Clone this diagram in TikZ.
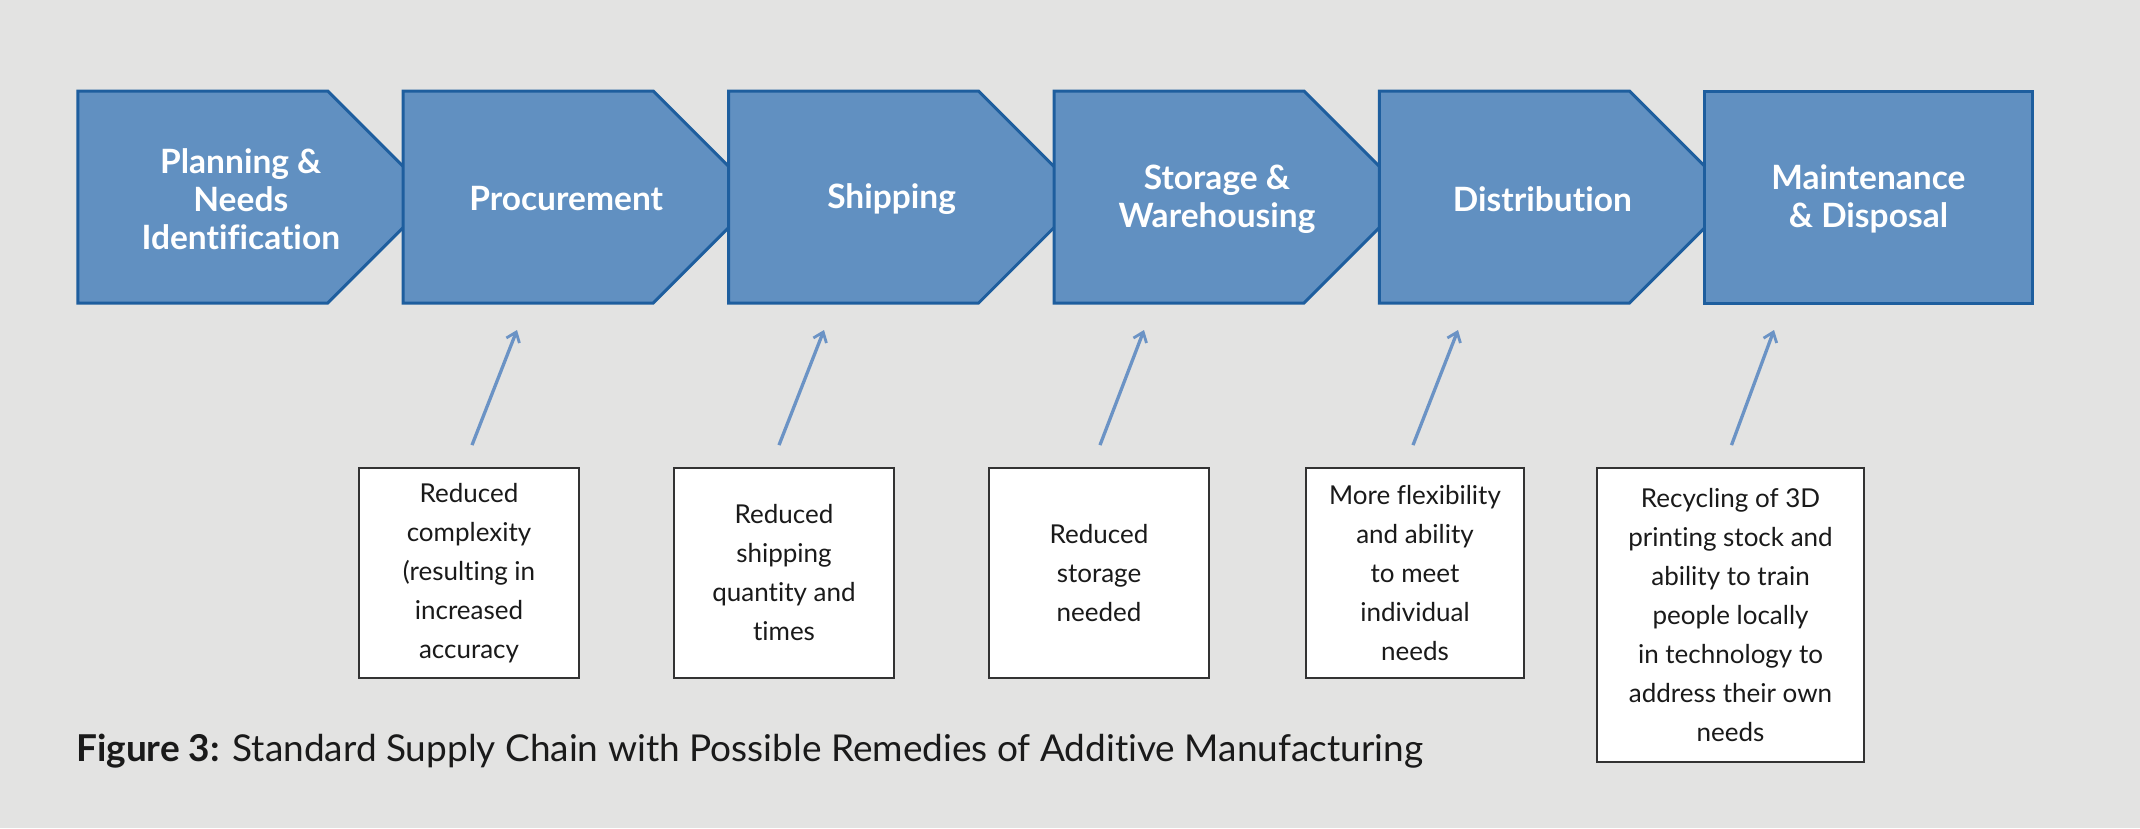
\documentclass[tikz,border=0pt]{standalone}
\usepackage{fontspec}
\setmainfont{Lato}[Ligatures=NoCommon]
\usetikzlibrary{arrows.meta}
\definecolor{bgc}{HTML}{E3E3E2}
\definecolor{chevfill}{HTML}{6190C1}
\definecolor{chevline}{HTML}{1E5E9E}
\definecolor{arrc}{HTML}{6B93C5}
\definecolor{boxline}{HTML}{333333}
\definecolor{txt}{HTML}{1A1A1A}
\newcommand\chevshape[1]{\draw[chev] (#1,91) -- ++(250,0) -- ++(106,106) -- ++(-106,106) -- ++(-250,0) -- cycle;}
\begin{document}
\begin{tikzpicture}[x=1pt,y=-1pt,
  chev/.style={fill=chevfill,draw=chevline,line width=3pt,line join=miter},
  stxt/.style={text=white,font=\bfseries\fontsize{33.5}{38}\selectfont,align=center,inner sep=0pt},
  remedy/.style={draw=boxline,fill=white,line width=1.8pt,align=center,text=txt,
     font=\fontsize{26}{39}\selectfont,inner sep=0pt},
  arr/.style={draw=arrc,line width=3.3pt,-{Straight Barb[length=9pt,width=14pt,line width=2.8pt]}}]
\useasboundingbox[fill=bgc] (0,0) rectangle (2140,828);
% chevrons
\chevshape{77.8}
\chevshape{403.2}
\chevshape{728.6}
\chevshape{1054.0}
\chevshape{1379.4}
\draw[chev] (1704.8,91) rectangle (2032,303);
\node[stxt] (s1) at (240.8,199) {Planning \&\\Needs\\Identification};
\node[stxt] (s2) at (566.2,199) {Procurement};
\node[stxt] (s3) at (891.6,199) {Shipping};
\node[stxt] (s4) at (1217.0,199) {Storage \&\\Warehousing};
\node[stxt] (s5) at (1542.4,199) {Distribution};
\node[stxt] (s6) at (1868.4,199) {Maintenance\\\& Disposal};
% remedy boxes
\node[remedy,minimum width=220pt,minimum height=210pt] (b1) at (469,573) {Reduced\\complexity\\(resulting in\\increased\\accuracy};
\node[remedy,minimum width=220pt,minimum height=210pt] (b2) at (784,573) {Reduced\\shipping\\quantity and\\times};
\node[remedy,minimum width=220pt,minimum height=210pt] (b3) at (1099,573) {Reduced\\storage\\needed};
\node[remedy,minimum width=218pt,minimum height=210pt] (b4) at (1415,573) {More flexibility\\and ability\\to meet\\individual\\needs};
\node[remedy,minimum width=267pt,minimum height=294pt] (b5) at (1730.5,615) {Recycling of 3D\\printing stock and\\ability to train\\people locally\\in technology to\\address their own\\needs};
% arrow heads
\coordinate (h1) at (517,330);
\coordinate (h2) at (824,330);
\coordinate (h3) at (1144,330);
\coordinate (h4) at (1458,330);
\coordinate (h5) at (1774,330);
\draw[arr] ([xshift=3pt,yshift=22pt]b1.north) -- (h1);
\draw[arr] ([xshift=-5pt,yshift=22pt]b2.north) -- (h2);
\draw[arr] ([xshift=1pt,yshift=22pt]b3.north) -- (h3);
\draw[arr] ([xshift=-2pt,yshift=22pt]b4.north) -- (h4);
\draw[arr] ([xshift=1pt,yshift=22pt]b5.north) -- (h5);
% caption
\node[anchor=west,inner sep=0pt,text=txt,font=\fontsize{37}{44}\selectfont] (cap) at (76,751) {\textbf{Figure 3:} Standard Supply Chain with Possible Remedies of Additive Manufacturing};
\end{tikzpicture}
\end{document}
